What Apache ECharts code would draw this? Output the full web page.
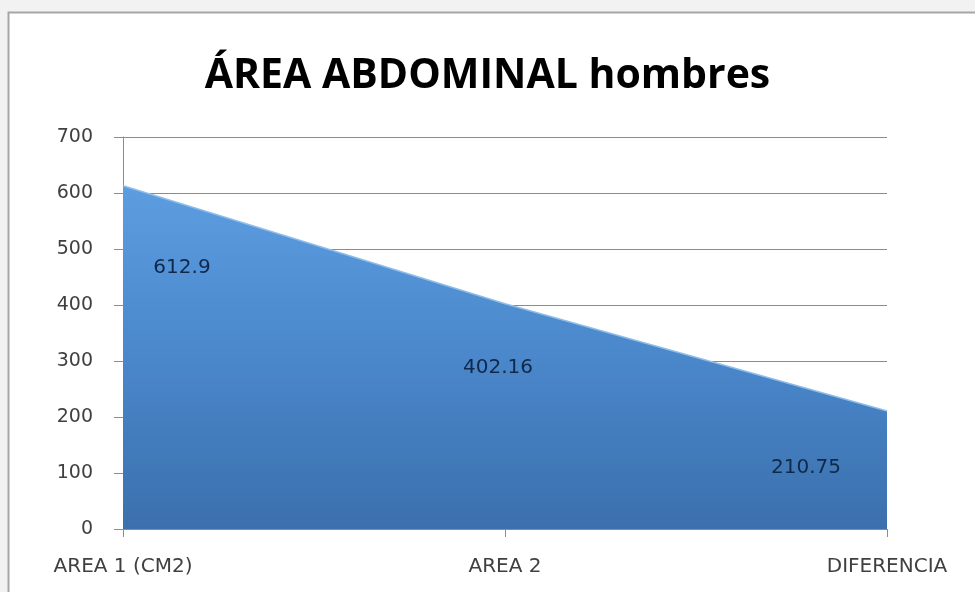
<!DOCTYPE html>
<html><head><meta charset="utf-8">
<script src="https://cdn.jsdelivr.net/npm/echarts@6/dist/echarts.min.js"></script>
<style>html,body{margin:0;padding:0;background:#f0f0f0;}#c{width:975px;height:592px;}</style>
</head><body><div id="c"></div>
<script>
var categories = ['AREA 1 (CM2)', 'AREA 2', 'DIFERENCIA'];
var values = [612.9, 402.16, 210.75];
var yTicks = [0, 100, 200, 300, 400, 500, 600, 700];

var labelOffsets = [[59, 93], [-7, 75], [-81, 67]];
var chart = echarts.init(document.getElementById('c'));
chart.setOption({
  backgroundColor: '#f2f2f2',
  animation: false,
  graphic: [{
    type: 'rect', shape: {x: 8.5, y: 12.5, width: 1000, height: 700},
    style: {fill: '#ffffff', stroke: '#a6a6a6', lineWidth: 2}, z: -10
  }],
  title: {
    text: 'ÁREA ABDOMINAL hombres', left: 'center', top: 51,
    textStyle: {fontFamily: 'Open Sans', fontWeight: 'bold', fontSize: 41, color: '#000'}
  },
  grid: {left: 123, right: 88, top: 137, bottom: 63},
  xAxis: {
    type: 'category', data: categories, boundaryGap: false,
    axisLine: {lineStyle: {color: '#8c8c8c', width: 1}},
    axisTick: {show: true, alignWithLabel: true, length: 8, lineStyle: {color: '#8c8c8c'}},
    axisLabel: {color: '#404040', fontFamily: 'DejaVu Sans', fontSize: 20, margin: 28},
    splitLine: {show: false}
  },
  yAxis: {
    type: 'value', min: yTicks[0], max: yTicks[yTicks.length - 1], interval: 100,
    axisLine: {show: true, lineStyle: {color: '#8c8c8c'}},
    axisTick: {show: true, length: 9, lineStyle: {color: '#8c8c8c'}},
    axisLabel: {color: '#404040', fontFamily: 'DejaVu Sans', fontSize: 19, margin: 30},
    splitLine: {lineStyle: {color: '#8c8c8c', width: 1}}
  },
  series: [{
    type: 'line',
    data: values.map(function (v, i) {
      return {value: v, label: {offset: labelOffsets[i]}};
    }),
    symbol: 'circle',
    symbolSize: 1,
    showSymbol: true,
    itemStyle: {color: 'rgba(0,0,0,0)'},
    lineStyle: {color: '#8dbde9', width: 1.5},
    areaStyle: {
      opacity: 1,
      color: {type: 'linear', x: 0, y: 0, x2: 0, y2: 1,
        colorStops: [{offset: 0, color: '#5c9de0'}, {offset: 0.5, color: '#4a87cb'}, {offset: 1, color: '#3b70ad'}]}
    },
    label: {
      show: true, position: 'top', distance: 0, color: '#10284a',
      fontFamily: 'DejaVu Sans', fontSize: 20
    }
  }]
});
</script></body></html>
